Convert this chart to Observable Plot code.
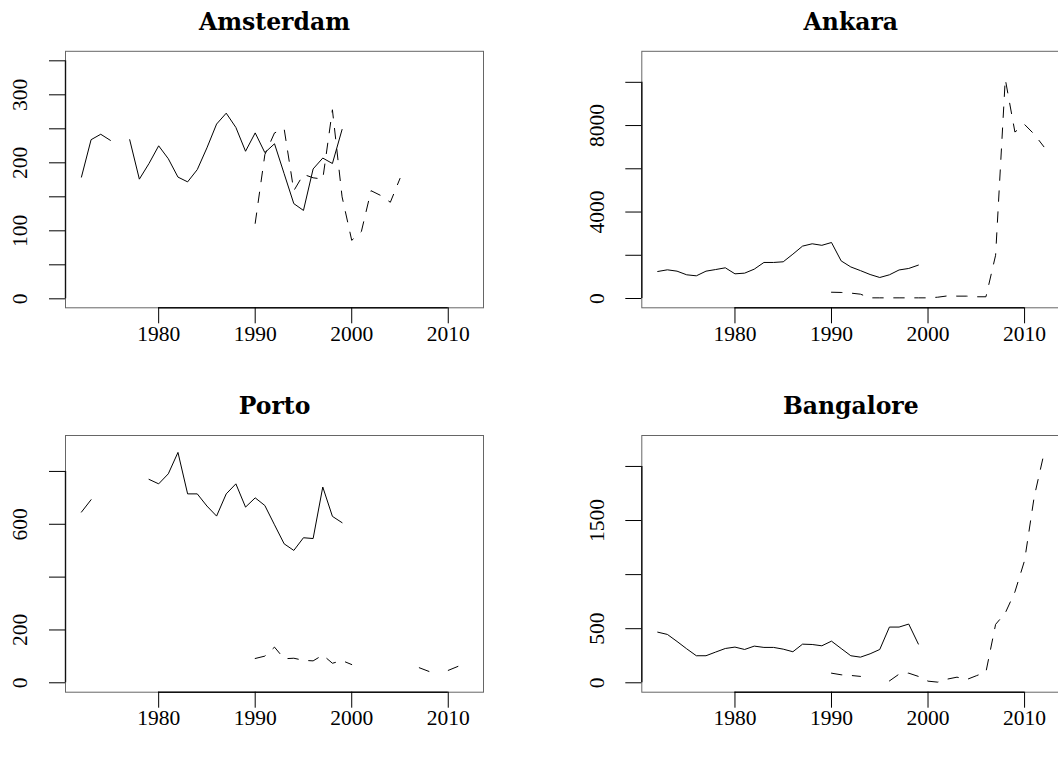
<!DOCTYPE html>
<html><head><meta charset="utf-8">
<script src="https://cdn.jsdelivr.net/npm/d3@7"></script>
<script src="https://cdn.jsdelivr.net/npm/@observablehq/plot@0.6"></script>
<style>
html,body{margin:0;padding:0;background:#fff;}
#wrap{position:relative;width:1058px;height:758px;overflow:hidden;background:#fff;}
#wrap svg{position:absolute;}
</style></head><body><div id="wrap"></div>
<script>
const N = null;
const years = [1972,1973,1974,1975,1976,1977,1978,1979,1980,1981,1982,1983,1984,1985,1986,1987,1988,1989,1990,1991,1992,1993,1994,1995,1996,1997,1998,1999,2000,2001,2002,2003,2004,2005,2006,2007,2008,2009,2010,2011,2012];

// Amsterdam
const amsterdamSolid  = [179,234,242,233,N,234,176,199,225,206,179,172,190,222,257,273,252,217,244,215,228,184,140,130,191,207,199,249,N,N,N,N,N,N,N,N,N,N,N,N,N];
const amsterdamDashed = [N,N,N,N,N,N,N,N,N,N,N,N,N,N,N,N,N,N,111,212,244,250,159,183,178,176,278,150,86,99,159,152,142,177,N,N,N,N,N,N,N];
// Ankara
const ankaraSolid  = [1250,1327,1265,1096,1049,1265,1340,1420,1142,1173,1358,1667,1667,1698,2052,2423,2531,2460,2590,1740,1460,1290,1110,972,1096,1320,1390,1545,N,N,N,N,N,N,N,N,N,N,N,N,N];
const ankaraDashed = [N,N,N,N,N,N,N,N,N,N,N,N,N,N,N,N,N,N,290,280,250,200,30,30,30,30,30,30,30,60,120,110,110,80,80,2000,10150,7700,8050,7600,7020];
// Porto
const portoSolid  = [646,693,N,N,N,N,N,770,753,791,872,715,715,669,631,715,753,665,700,671,598,526,501,549,546,741,630,606,N,N,N,N,N,N,N,N,N,N,N,N,N];
const portoDashed = [N,N,N,N,N,N,N,N,N,N,N,N,N,N,N,N,N,N,92,101,135,91,93,85,83,105,74,84,69,N,N,N,N,N,N,57,43,N,47,62,N];
// Bangalore
const bangaloreSolid  = [468,447,382,314,250,250,284,317,330,308,339,327,327,311,287,357,354,342,385,317,250,237,268,308,515,515,543,358,N,N,N,N,N,N,N,N,N,N,N,N,N];
const bangaloreDashed = [N,N,N,N,N,N,N,N,N,N,N,N,N,N,N,N,N,N,89,74,68,59,N,N,17,80,89,59,15,6,34,52,30,65,100,540,645,840,1130,1720,2115];

const xTicks = [1980,1990,2000,2010];
const amsterdamTicks = [0,50,100,150,200,250,300,350];
const amsterdamLabels = [0,100,200,300];
const ankaraTicks = [0,2000,4000,6000,8000,10000];
const ankaraLabels = [0,4000,8000];
const portoTicks = [0,200,400,600,800];
const portoLabels = [0,200,600];
const bangaloreTicks = [0,500,1000,1500,2000];
const bangaloreLabels = [0,500,1500];

const panels = [
  {title:"Amsterdam", solid:amsterdamSolid, dashed:amsterdamDashed, yDomain:[-13.2,364], ticks:amsterdamTicks, labels:amsterdamLabels,
   left:0, top:0, w:529, ml:65, mr:46, mt:50.8, mb:71.7},
  {title:"Ankara", solid:ankaraSolid, dashed:ankaraDashed, yDomain:[-430,11435], ticks:ankaraTicks, labels:ankaraLabels,
   left:529, top:0, w:531, ml:112.3, mr:0.7, mt:50.8, mb:71.7},
  {title:"Porto", solid:portoSolid, dashed:portoDashed, yDomain:[-35.6,936], ticks:portoTicks, labels:portoLabels,
   left:0, top:379, w:529, ml:65, mr:46, mt:56, mb:66.3},
  {title:"Bangalore", solid:bangaloreSolid, dashed:bangaloreDashed, yDomain:[-87,2286], ticks:bangaloreTicks, labels:bangaloreLabels,
   left:529, top:379, w:531, ml:112.3, mr:0.7, mt:56, mb:66.3}
];

const wrap = document.getElementById("wrap");
const XMIN = 1970.35, XMAX = 2013.65;

for (const p of panels) {
  const rows = years.map((yr, i) => ({year: yr, solid: p.solid[i], dashed: p.dashed[i]}));
  const svg = Plot.plot({
    width: p.w, height: 379,
    marginLeft: p.ml, marginRight: p.mr, marginTop: p.mt, marginBottom: p.mb,
    x: {domain: [XMIN, XMAX], axis: null},
    y: {domain: p.yDomain, axis: null},
    style: {fontFamily: "'Liberation Serif', serif", background: "transparent", color: "#000", overflow: "visible"},
    marks: [
      Plot.frame({stroke: "#666", strokeWidth: 1}),
      Plot.ruleY([{y: p.yDomain[0], x1: xTicks[0], x2: xTicks[xTicks.length-1]}], {y: "y", x1: "x1", x2: "x2", stroke: "#111", strokeWidth: 1.4}),
      Plot.ruleX([{x: XMIN, y1: p.ticks[0], y2: p.ticks[p.ticks.length-1]}], {x: "x", y1: "y1", y2: "y2", stroke: "#111", strokeWidth: 1.4}),
      Plot.axisX({ticks: xTicks, tickSize: 16, tickPadding: 1.5, fontSize: 21.5, tickFormat: d => String(d), label: null, color: "#000", strokeWidth: 1}),
      Plot.axisY({ticks: p.ticks, tickSize: 16, tickFormat: () => "", label: null, color: "#000", strokeWidth: 1}),
      Plot.text(p.labels, {y: d => d, text: d => String(d), frameAnchor: "left", dx: -45, rotate: -90, textAnchor: "middle", lineAnchor: "middle", fontSize: 21.5, fill: "#000"}),
      Plot.lineY(rows, {x: "year", y: "solid", stroke: "#000", strokeWidth: 1}),
      Plot.lineY(rows, {x: "year", y: "dashed", stroke: "#000", strokeWidth: 1, strokeDasharray: "10.5,10.5"}),
      Plot.text([p.title], {text: d => d, frameAnchor: "top", lineAnchor: "bottom", dy: -21.4, fontSize: 23.5, fontWeight: "bold", fontFamily: "'DejaVu Serif', serif", fill: "#000"})
    ]
  });
  svg.style.left = p.left + "px";
  svg.style.top = p.top + "px";
  wrap.appendChild(svg);
}
</script>
</body></html>
